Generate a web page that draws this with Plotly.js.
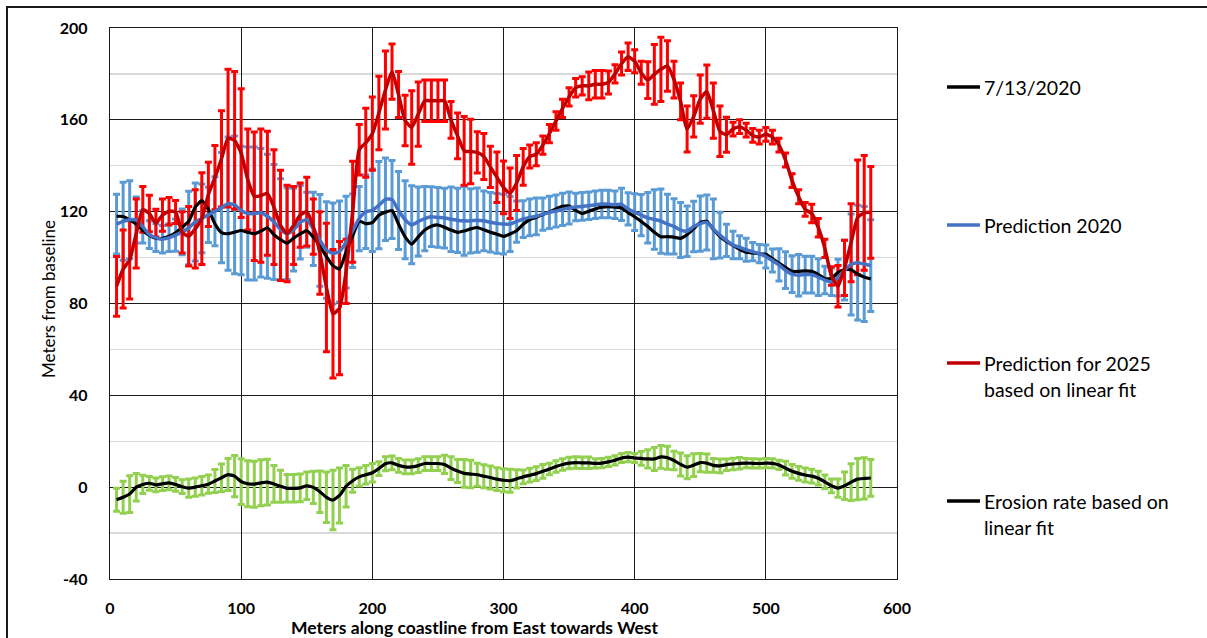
<!DOCTYPE html>
<html>
<head>
<meta charset="utf-8">
<script src="https://cdn.plot.ly/plotly-3.0.1.min.js"></script>
<style>
  html, body { margin: 0; padding: 0; background: #fff; }
  #wrap { position: relative; width: 1207px; height: 638px; overflow: hidden; }
  #chart { position: absolute; left: 0; top: 0; width: 1207px; height: 638px; }
  #frame { position: absolute; left: 6px; top: 6px; width: 1220px; height: 660px; border: 2px solid #1a1a1a; pointer-events: none; }
</style>
</head>
<body>
<div id="wrap"><div id="chart"></div><div id="frame"></div></div>
<script>
// ---- data ----
const positions = [5,10,15,20,25,30,35,40,45,50,55,60,65,70,75,80,85,90,95,100,
  105,110,115,120,125,130,135,140,145,150,155,160,165,170,175,180,185,190,195,200,
  205,210,215,220,225,230,235,240,245,250,255,260,265,270,275,280,285,290,295,300,
  305,310,315,320,325,330,335,340,345,350,355,360,365,370,375,380,385,390,395,400,
  405,410,415,420,425,430,435,440,445,450,455,460,465,470,475,480,485,490,495,500,
  505,510,515,520,525,530,535,540,545,550,555,560,565,570,575,580];

const observed2020 = [118,117.9,116.4,114.5,111.8,109.7,108.4,108.4,109.3,110.8,
  113.2,115.8,122,124.8,121,114.7,110.9,110.4,111.1,111.8,
  111,110.4,111.5,113,110,107.8,106.3,108.5,110.3,111.7,
  108.9,105,100.4,96.5,95,102.5,109.5,115.8,114.8,115.2,
  118.5,119.8,120.5,114.5,109,105.9,109,112,113.6,114.2,
  113.2,112,111,111.6,112.5,113.1,112.1,111,110.2,109.2,
  110.3,111.7,114.5,116.6,117.5,118.8,119.9,121.2,122.3,122.4,
  120.6,119.2,120.2,121.2,122,122.2,122,121.6,119.6,117.8,
  115.7,113.5,111,109.1,109.1,108.9,108.4,110,112.6,115.2,
  115.8,112.2,109.2,107,105.3,103.6,102.3,102,101.7,101.4,
  99.6,97.6,95.7,94,94,94.2,94,92.6,90.8,91,
  93.5,94.7,94.7,92.8,91.5,90.7];

const prediction2020 = [114.6,115.8,116.5,116.4,113.4,110,108.7,108,108.7,109.8,
  111.2,112.9,115.5,117.1,118.6,120.2,121.8,123.5,123,120.5,
  119.2,119.2,119.5,118,115.5,112.3,110.4,112.2,115.4,116.5,
  112.5,107.5,103.3,101.8,102.7,106.7,111.7,117,120,120.6,
  122.8,125.4,125.3,120.5,116.5,114.3,115.7,117,117.8,117.5,
  117.2,116.7,116.2,116,116,116.3,116,115.4,114.9,114.6,
  114.6,115.7,116.8,117.5,118,118.9,119.7,120.3,121,121.6,
  122,122.3,122.6,123,123.3,123.3,123,123.2,121.2,119.8,
  118.5,117.3,116.6,115.9,114.6,113.6,112,111.5,113.5,114.8,
  115.3,112.5,109.8,107.5,105.5,104.5,103.4,102.6,101.7,100.5,
  98.7,96.8,94.5,92.8,92.3,92.6,92.6,91.5,90.2,89.5,
  91.3,94.5,97,97.8,97.2,96.5];

const prediction2020Err = [13,17,17,10,7,6,6,6,6,7,
  10,16,17,15,12,15,24,29,30,28,
  29,29,28,27,25,22,20,18,16,12,
  16,20,21,22,22,20,16,14,16,18,
  19,18,17,17,17,17,15,14,13,13,
  13,14,14,15,14,14,13,13,13,13,
  12,9,8,8,8,7,7,7,7,7,
  6,6,6,6,6,6,6,7,7,8,
  9,11,13,14,13,12,12,11,11,12,
  12,13,10,7,6,5,5,4,4,5,
  5,7,8,8,9,8,8,8,6,6,
  8,13,22,25,25,20];

const prediction2025 = [87.5,95,99,110.5,121,119.2,115,118.5,120.2,119.9,
  111,109.3,112.5,117,127.5,134.8,143,152,151,145.5,
  134,126.7,127,128,122,114,110.5,114,118.5,120,
  113.5,102,87,75.5,78,94,120,147,150,154,
  163,173,181,171,159.7,156.7,162.5,168.3,168.3,168.3,
  168.3,160,153,146.5,146.2,145.8,144,139.5,135,130.6,
  128,132.5,139.5,144,145,149,154,159.5,165,170,
  174,174.8,174.8,175.5,175.5,176.3,180,184.5,187.5,185.5,
  180.5,177.3,179.8,182,183.5,177.5,168,156,161.5,169,
  172.3,164,155,153.5,156,157,155.5,153.2,152.5,153.7,
  152.5,149,142.5,133.5,126.5,121,119.2,113,104,92,
  87.5,95.5,106.5,117.5,119.5,119.7];

const prediction2025Err = [13,17,17,15,10,8,6,7,6,5,
  9,13,17,20,14,14,21,30,30,28,
  22,28,29,27,25,24,21,17,14,15,
  12,18,28,28,29,14,22,11,15,16,
  16,17,12,10,11,16,14,9,9,9,
  9,8,10,15,14,9,10,9,11,11.5,
  11,12,8,5,5,4,4,4,4,4,
  4,4,6,6,6,5,4,5,6,5,
  5,8,13,14,11,8,8,10,9,10.5,
  11.6,12,11,7.6,3,3,3,3,3,3,
  3,3,3,3,3,3,4,4,4,4,
  9,12,17,25,25,20];

const erosionRate = [-5.5,-4.4,-3,0,1.2,1.7,1,1.5,1.9,1.2,
  0.2,-0.4,0,0.6,1.3,2.7,4.1,5.5,4.8,2.4,
  1.5,1.3,1.9,2.2,1.4,0.4,-0.5,-0.5,-0.3,0.6,
  -0.1,-2,-4.4,-5.6,-3.6,0.4,2.8,4.5,5.4,6.3,
  8.1,10.2,10.6,9.5,8.8,8.8,9.4,10.3,10.3,10.3,
  9.9,8.3,7,6,5.7,5.4,4.8,4.2,3.5,3,
  2.8,3.6,4.5,5.2,5.9,6.9,7.9,9,9.9,10.5,
  10.7,10.6,10.6,10.4,10.5,11,11.7,12.7,13.1,12.7,
  12.5,12.3,12.3,13.2,12.8,11.6,9.9,8.7,9.6,10.7,
  10.5,9.5,9.3,9.8,10.1,10.4,10.5,10.4,10.3,10.5,
  10.4,9.7,8.3,6.9,6,5.3,4.8,3.9,2.3,0.6,
  -0.4,0.6,2.2,3.5,3.8,4];

const erosionRateErr = [5,7,8,6,4,3,3,3,3,3,
  3,4,4,4,4,5,6,7,9,10,
  10,10,10,10,8,7,6,6,6,6,
  7,9,11,13,12,9,5,4,4,4,
  3,3,3,3,3,3,3,3,3,3,
  4,5,5,6,6,5,5,5,5,5,
  5,4,3,3,3,3,2.5,2.5,2.5,2.5,
  2.5,2.5,2.5,2,2,2,2,2,2,2,
  3,4,5,5,5,4,5,5,5,4,
  4,3,3,2.5,2.5,2.5,2,2,2,2,
  2,2,3,3,3,3,3,3,3,3,
  4,6,8,9,9,8];

const seriesNames = ['7/13/2020', 'Prediction 2020', 'Prediction for 2025', 'based on linear fit', 'Erosion rate based on', 'linear fit'];
const yTicks = [-40, 0, 40, 80, 120, 160, 200];
const xTicks = [0, 100, 200, 300, 400, 500, 600];

// ---- styling ----
const FONT = 'Lato, "Open Sans", "DejaVu Sans", sans-serif';
const ML = 110, MT = 28, MR = 310, MB = 59, W = 1207, H = 638;
const PW = W - ML - MR, PH = H - MT - MB;
const px = v => (v - ML) / PW;
const py = v => (H - MB - v) / PH;

function errTrace(y, err, color) {
  return {
    x: positions, y: y, type: 'scatter', mode: 'markers',
    marker: { size: 1, opacity: 0 },
    error_y: { type: 'data', array: err, visible: true, color: color, thickness: 3, width: 3.5 },
    showlegend: false, hoverinfo: 'skip'
  };
}
function lineTrace(y, color, width) {
  return {
    x: positions, y: y, type: 'scatter', mode: 'lines',
    line: { color: color, width: width, shape: 'spline', smoothing: 0.5 },
    showlegend: false
  };
}

const traces = [
  errTrace(prediction2020, prediction2020Err, '#5B9BD5'),
  errTrace(prediction2025, prediction2025Err, '#FF0000'),
  errTrace(erosionRate, erosionRateErr, '#92D050'),
  lineTrace(observed2020, '#000000', 3.2),
  lineTrace(prediction2020, '#4472C4', 3.5),
  lineTrace(prediction2025, '#C00000', 3.5),
  lineTrace(erosionRate, '#000000', 3.2)
];

// legend (drawn manually to match spacing)
const legendItems = [
  { color: '#000000', y: 87, lines: [seriesNames[0]] },
  { color: '#4472C4', y: 225, lines: [seriesNames[1]] },
  { color: '#C00000', y: 363, lines: [seriesNames[2], seriesNames[3]] },
  { color: '#000000', y: 501, lines: [seriesNames[4], seriesNames[5]] }
];
const shapes = [];
const annotations = [];
legendItems.forEach(it => {
  shapes.push({ type: 'line', xref: 'paper', yref: 'paper', x0: px(947), x1: px(980), y0: py(it.y), y1: py(it.y),
    line: { color: it.color, width: 3.5 } });
  it.lines.forEach((t, i) => {
    annotations.push({ xref: 'paper', yref: 'paper', x: px(982), y: py(it.y + i * 26), text: t, showarrow: false,
      xanchor: 'left', yanchor: 'middle', font: { family: FONT, size: 19.5, color: '#000' } });
  });
});
annotations.push({ xref: 'paper', yref: 'paper', x: px(475), y: py(627), text: '<b>Meters along coastline from East towards West</b>',
  showarrow: false, xanchor: 'center', yanchor: 'middle', font: { family: FONT, size: 17.5, color: '#000' } });
annotations.push({ xref: 'paper', yref: 'paper', x: px(48), y: py(299), text: 'Meters from baseline', textangle: -90,
  showarrow: false, xanchor: 'center', yanchor: 'middle', font: { family: FONT, size: 17, color: '#000' } });

const layout = {
  width: W, height: H,
  margin: { l: ML, r: MR, t: MT, b: MB, pad: 0 },
  paper_bgcolor: '#fff', plot_bgcolor: '#fff',
  showlegend: false,
  font: { family: FONT, color: '#000' },
  xaxis: {
    range: [0, 600], tickvals: xTicks, ticktext: xTicks.map(String),
    showgrid: true, gridcolor: '#1a1a1a', gridwidth: 1.3,
    zeroline: false, showline: true, linecolor: '#1a1a1a', linewidth: 1.3, mirror: true,
    ticks: '', ticklabelstandoff: 14,
    tickfont: { family: FONT, size: 16, color: '#000', weight: 'bold' }
  },
  yaxis: {
    range: [-40, 200], tickvals: yTicks, ticktext: yTicks.map(String),
    showgrid: true, gridcolor: '#1a1a1a', gridwidth: 1.3,
    minor: { tickvals: [-20, 20, 60, 100, 140, 180], showgrid: true, gridcolor: '#d9d9d9', gridwidth: 1.3 },
    zeroline: false, showline: true, linecolor: '#1a1a1a', linewidth: 1.3, mirror: true,
    ticks: '', ticklabelstandoff: 18,
    tickfont: { family: FONT, size: 16, color: '#000', weight: 'bold' }
  },
  shapes: shapes,
  annotations: annotations
};

Plotly.newPlot('chart', traces, layout, { displayModeBar: false, staticPlot: true });
</script>
</body>
</html>
